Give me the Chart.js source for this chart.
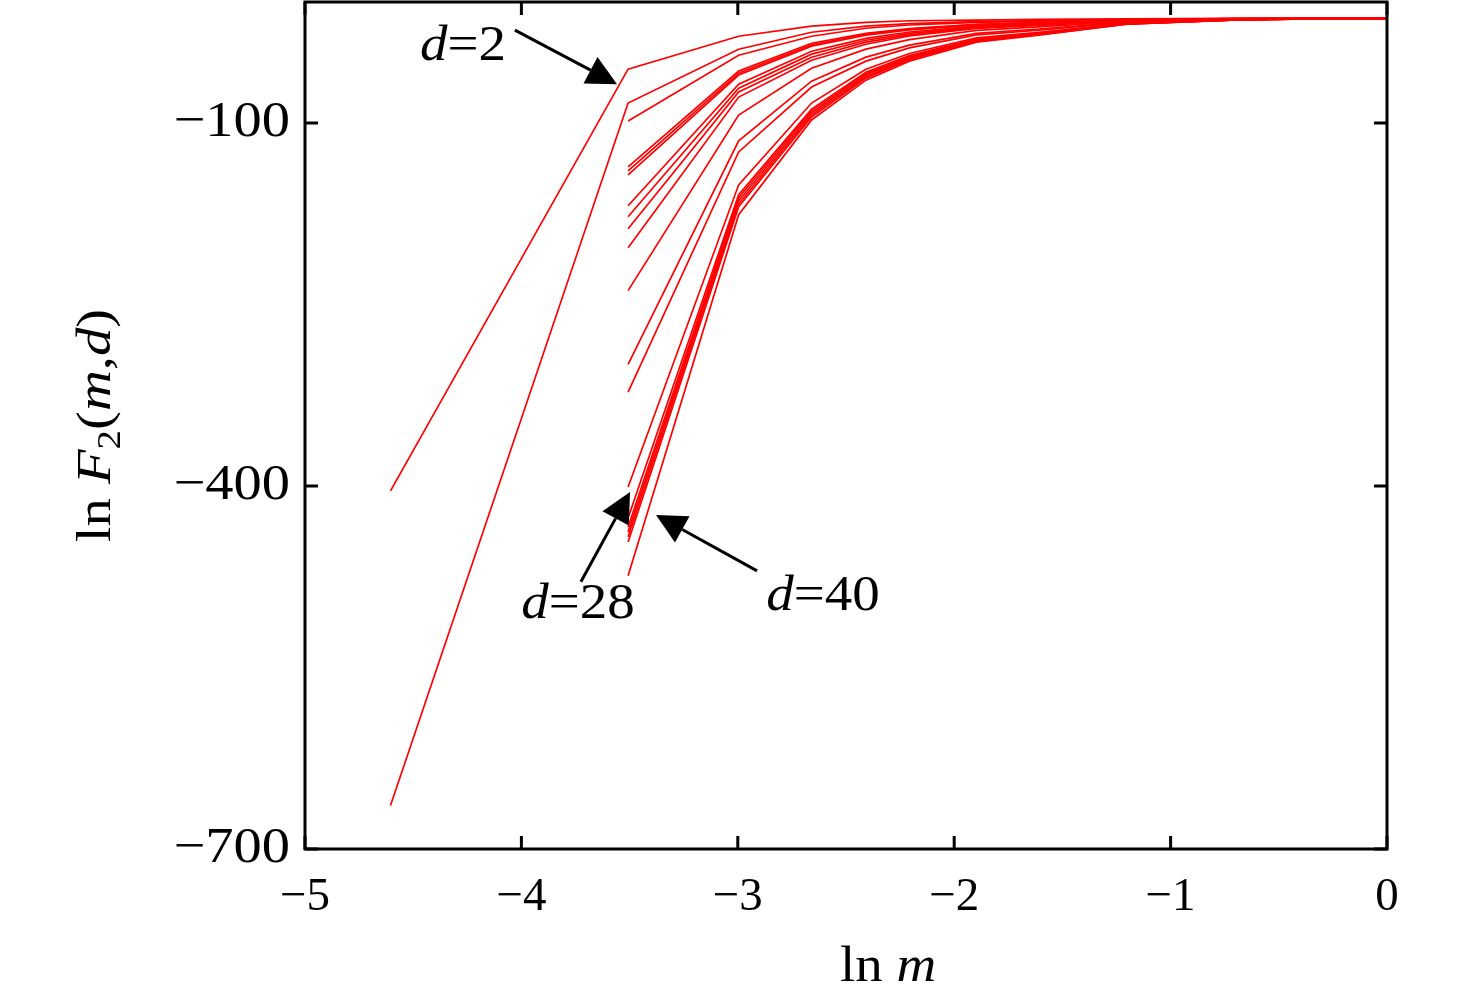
<!DOCTYPE html>
<html>
<head>
<meta charset="utf-8">
<title>ln F2(m,d) against ln m</title>
<script src="https://cdn.jsdelivr.net/npm/chart.js@4.4.1/dist/chart.umd.min.js"></script>
<style>
  html, body { margin: 0; padding: 0; background: #fff; }
  #wrap { width: 1476px; height: 999px; position: relative; }
</style>
</head>
<body>
<div id="wrap"><canvas id="chart"></canvas></div>
<script>
// ln m sample points (m = 0.01, 0.03, 0.05, 0.07, 0.09, 0.11, 0.15, 0.2, 0.3, 0.5, 0.7, 1)
const lnM = [-4.605, -3.507, -2.996, -2.659, -2.408, -2.207, -1.897, -1.609, -1.204, -0.693, -0.357, 0];

const xTicks = [-5, -4, -3, -2, -1, 0];
const yTicks = [-700, -400, -100];

// ln F2(m,d), one list per d (null = no point at that m)
const f_d2  = [-404, -55.5, -28.3, -20.0, -16.8, -15.5, -14.9, -14.4, -14.0, -13.6, -13.5, -13.5];
const f_d4  = [-664, -83.5, -39.0, -25.0, -20.0, -17.8, -16.2, -15.3, -14.3, -13.7, -13.5, -13.5];
const f_d6  = [null, -98.4, -44.0, -28.3, -21.7, -19.0, -16.8, -15.8, -14.4, -13.7, -13.6, -13.5];
const f_d8  = [null, -136.3, -57.1, -34.1, -25.8, -21.9, -18.4, -16.9, -14.8, -13.8, -13.6, -13.5];
const f_d10 = [null, -139.6, -58.8, -35.3, -26.6, -22.4, -18.7, -17.1, -14.9, -13.8, -13.6, -13.5];
const f_d12 = [null, -142.9, -60.4, -36.5, -27.5, -23.0, -19.0, -17.4, -15.0, -13.9, -13.6, -13.5];
const f_d14 = [null, -168.4, -67.9, -40.7, -30.0, -24.8, -20.0, -18.0, -15.2, -13.9, -13.7, -13.5];
const f_d16 = [null, -177.5, -71.2, -43.1, -31.6, -25.9, -20.6, -18.5, -15.3, -14.0, -13.7, -13.5];
const f_d18 = [null, -187.4, -74.4, -45.6, -33.2, -27.1, -21.2, -18.9, -15.5, -14.0, -13.7, -13.5];
const f_d20 = [null, -203.0, -78.6, -48.1, -34.9, -28.1, -21.8, -19.4, -15.6, -14.1, -13.7, -13.5];
const f_d22 = [null, -238.5, -93.4, -54.7, -39.0, -31.1, -23.4, -20.5, -16.0, -14.2, -13.7, -13.5];
const f_d24 = [null, -299.5, -114.8, -65.4, -45.6, -35.6, -25.9, -22.3, -16.6, -14.3, -13.8, -13.5];
const f_d26 = [null, -322.5, -123.9, -70.3, -48.9, -37.9, -27.2, -23.2, -16.9, -14.4, -13.8, -13.5];
const f_d28 = [null, -400.8, -151.1, -83.5, -55.5, -42.6, -29.7, -25.0, -17.6, -14.6, -13.8, -13.5];
const f_d30 = [null, -426.4, -159.3, -88.5, -58.0, -44.3, -30.7, -25.7, -17.8, -14.6, -13.9, -13.5];
const f_d32 = [null, -433.8, -161.8, -90.1, -59.2, -45.2, -31.2, -26.0, -17.9, -14.7, -13.9, -13.5];
const f_d34 = [null, -437.9, -164.3, -91.8, -60.4, -46.0, -31.6, -26.3, -18.0, -14.7, -13.9, -13.5];
const f_d36 = [null, -442.0, -166.8, -93.4, -61.7, -46.9, -32.1, -26.7, -18.1, -14.7, -13.9, -13.5];
const f_d38 = [null, -446.2, -169.2, -95.1, -62.9, -47.7, -32.6, -27.0, -18.3, -14.8, -13.9, -13.5];
const f_d40 = [null, -474.2, -175.8, -97.5, -64.6, -48.9, -33.2, -27.4, -18.4, -14.8, -13.9, -13.5];

const dLabels = [2, 4, 6, 8, 10, 12, 14, 16, 18, 20, 22, 24, 26, 28, 30, 32, 34, 36, 38, 40];
const series = [f_d2, f_d4, f_d6, f_d8, f_d10, f_d12, f_d14, f_d16, f_d18, f_d20,
                f_d22, f_d24, f_d26, f_d28, f_d30, f_d32, f_d34, f_d36, f_d38, f_d40];

// annotations, in data units: label text, text centre, arrow tail, arrow tip
const notes = [
  { d: '2',  at: [-4.270, -37.4],  tail: [-4.030, -23.3],  tip: [-3.558, -67.9] },
  { d: '28', at: [-3.738, -498.1], tail: [-3.725, -479.1], tip: [-3.498, -405.0] },
  { d: '40', at: [-2.606, -491.5], tail: [-2.911, -470.1], tip: [-3.378, -423.9] }
];

const SERIF = '"Liberation Serif", "Times New Roman", serif';
const FS = 47;

function minusFmt(v) {
  return v < 0 ? '\u2212' + Math.abs(v) : String(v);
}

function runFont(r, size) {
  const s = r.sub ? Math.round(size * 0.68) : size;
  return (r.i ? 'italic ' : '') + s + 'px ' + SERIF;
}

// draws a row of text pieces (some italic / subscript); align 'center' or 'right'
function drawRuns(ctx, runs, x, y, size, sx, align) {
  let total = 0;
  runs.forEach(r => {
    ctx.font = runFont(r, size);
    r.w = ctx.measureText(r.t).width;
    total += r.w;
  });
  ctx.save();
  ctx.translate(x, y);
  ctx.scale(sx, 1);
  let cx = align === 'right' ? -total : -total / 2;
  runs.forEach(r => {
    ctx.font = runFont(r, size);
    ctx.fillText(r.t, cx, r.sub ? size * 0.2 : 0);
    cx += r.w;
  });
  ctx.restore();
}

function drawArrow(ctx, x0, y0, x1, y1) {
  const len = Math.hypot(x1 - x0, y1 - y0);
  const ux = (x1 - x0) / len, uy = (y1 - y0) / len;
  const head = 30, half = 15;
  const bx = x1 - ux * head, by = y1 - uy * head;
  ctx.beginPath();
  ctx.moveTo(x0, y0);
  ctx.lineTo(bx, by);
  ctx.lineWidth = 3;
  ctx.strokeStyle = '#000';
  ctx.stroke();
  ctx.beginPath();
  ctx.moveTo(x1, y1);
  ctx.lineTo(bx - uy * half, by + ux * half);
  ctx.lineTo(bx + uy * half, by - ux * half);
  ctx.closePath();
  ctx.fillStyle = '#000';
  ctx.fill();
}

const framePlugin = {
  id: 'frame',
  afterDraw(chart) {
    const { ctx, chartArea: a, scales: { x, y } } = chart;
    ctx.save();
    ctx.strokeStyle = '#000';
    ctx.lineWidth = 3;
    ctx.strokeRect(a.left, a.top, a.right - a.left, a.bottom - a.top);

    // inward ticks on all four sides
    const tl = 13;
    ctx.beginPath();
    xTicks.forEach(v => {
      const px = x.getPixelForValue(v);
      ctx.moveTo(px, a.bottom); ctx.lineTo(px, a.bottom - tl);
      ctx.moveTo(px, a.top);    ctx.lineTo(px, a.top + tl);
    });
    yTicks.forEach(v => {
      const py = y.getPixelForValue(v);
      ctx.moveTo(a.left, py);  ctx.lineTo(a.left + tl, py);
      ctx.moveTo(a.right, py); ctx.lineTo(a.right - tl, py);
    });
    ctx.stroke();

    ctx.fillStyle = '#000';

    // y tick labels (set a little larger than the x ones, as in the original)
    ctx.textBaseline = 'middle';
    yTicks.forEach(v => {
      drawRuns(ctx, [{ t: minusFmt(v) }], a.left - 15, y.getPixelForValue(v), 50, 1.13, 'right');
    });

    ctx.textBaseline = 'alphabetic';
    // x axis title
    drawRuns(ctx, [{ t: 'ln ' }, { t: 'm', i: true }], (a.left + a.right) / 2 + 42, 981, 50, 1.1);

    // y axis title, rotated
    ctx.save();
    ctx.translate(110, (a.top + a.bottom) / 2);
    ctx.rotate(-Math.PI / 2);
    drawRuns(ctx, [
      { t: 'ln ' }, { t: 'F', i: true }, { t: '2', sub: true }, { t: '(' },
      { t: 'm', i: true }, { t: ',' }, { t: 'd', i: true }, { t: ')' }
    ], 0, 0, 48, 1.18);
    ctx.restore();

    // d= annotations with arrows
    ctx.textBaseline = 'middle';
    notes.forEach(n => {
      drawArrow(ctx,
        x.getPixelForValue(n.tail[0]), y.getPixelForValue(n.tail[1]),
        x.getPixelForValue(n.tip[0]), y.getPixelForValue(n.tip[1]));
      ctx.fillStyle = '#000';
      drawRuns(ctx, [{ t: 'd', i: true }, { t: '=' + n.d }],
        x.getPixelForValue(n.at[0]), y.getPixelForValue(n.at[1]), 50, 1.1);
    });
    ctx.restore();
  }
};

const datasets = series.map((vals, k) => ({
  label: 'd=' + dLabels[k],
  data: lnM.map((lx, i) => ({ x: lx, y: vals[i] })).filter(p => p.y !== null),
  borderColor: '#ff0000',
  backgroundColor: '#ff0000',
  borderWidth: 1.7,
  pointRadius: 0,
  fill: false,
  tension: 0
}));

new Chart(document.getElementById('chart'), {
  type: 'line',
  data: { datasets },
  plugins: [framePlugin],
  options: {
    responsive: true,
    maintainAspectRatio: false,
    animation: false,
    layout: { padding: { left: 0, right: 89, top: 2, bottom: 0 } },
    plugins: {
      legend: { display: false },
      tooltip: { enabled: false }
    },
    scales: {
      x: {
        type: 'linear',
        min: -5,
        max: 0,
        afterBuildTicks: s => { s.ticks = xTicks.map(v => ({ value: v })); },
        afterFit: s => { s.height = 150; s.paddingLeft = 0; s.paddingRight = 0; },
        grid: { display: false, drawTicks: false },
        border: { display: false },
        ticks: {
          color: '#000',
          padding: 20,
          maxRotation: 0,
          font: { family: SERIF, size: FS },
          callback: v => minusFmt(v)
        }
      },
      y: {
        type: 'linear',
        min: -700,
        max: 0,
        afterBuildTicks: s => { s.ticks = yTicks.map(v => ({ value: v })); },
        afterFit: s => { s.width = 305; s.paddingTop = 0; s.paddingBottom = 0; },
        grid: { display: false, drawTicks: false },
        border: { display: false },
        ticks: {
          display: false,
          font: { family: SERIF, size: FS }
        }
      }
    }
  }
});
</script>
</body>
</html>
